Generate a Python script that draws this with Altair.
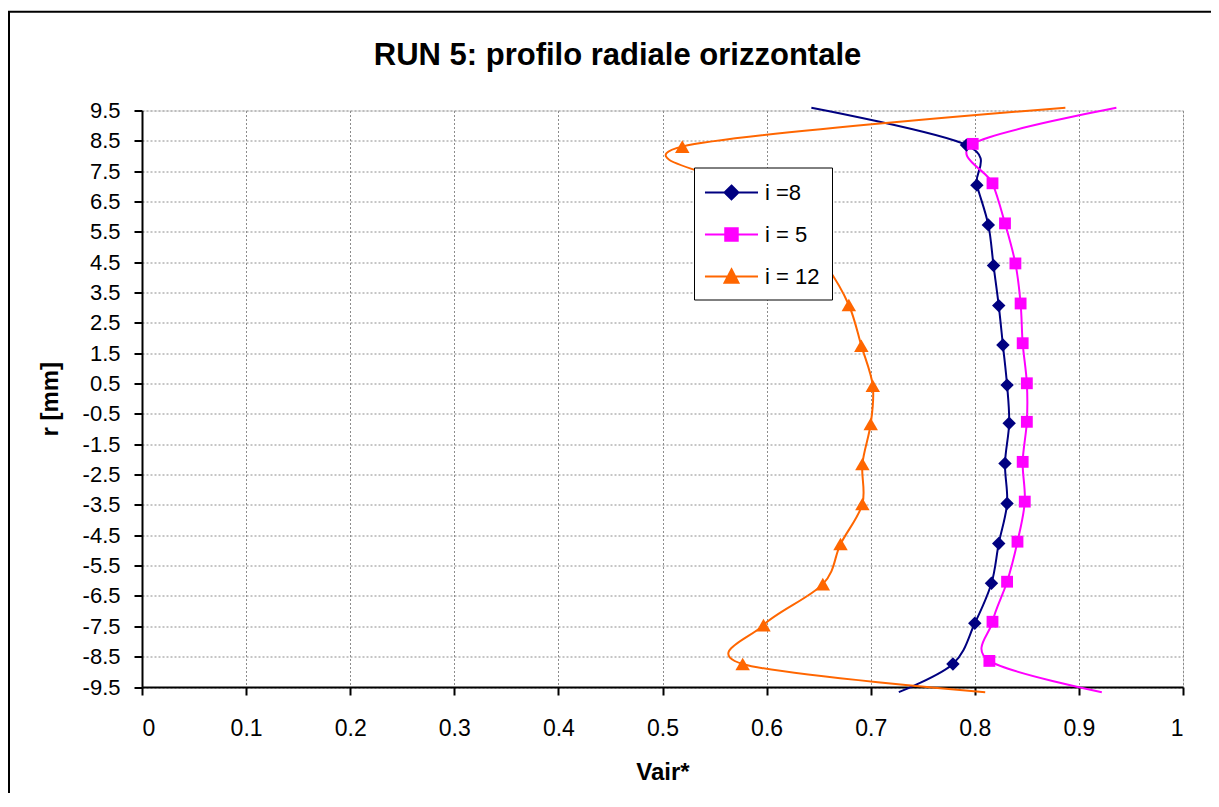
import altair as alt
import pandas as pd

FONT = "Liberation Sans, Arial, Helvetica, sans-serif"

series_names = ["i =8", "i = 5", "i = 12"]
series_colors = ["#000080", "#FF00FF", "#FF6600"]
marker_shapes = ["diamond", "square", "triangle-up"]

# radial position r [mm] and Vair* for each series (first and last entries are the
# line end points, which carry no marker)
r_i8 = [9.59, 8.36, 7.04, 5.73, 4.39, 3.07, 1.77, 0.45, -0.81, -2.13, -3.45, -4.77, -6.08, -7.40, -8.74, -9.67]
v_i8 = [0.643, 0.792, 0.802, 0.813, 0.818, 0.823, 0.827, 0.831, 0.833, 0.829, 0.831, 0.823, 0.816, 0.800, 0.779, 0.727]

r_i5 = [9.59, 8.40, 7.10, 5.78, 4.46, 3.14, 1.83, 0.51, -0.76, -2.08, -3.39, -4.71, -6.03, -7.35, -8.64, -9.67]
v_i5 = [0.936, 0.798, 0.817, 0.829, 0.839, 0.844, 0.846, 0.850, 0.850, 0.846, 0.848, 0.841, 0.831, 0.817, 0.814, 0.922]

r_i12 = [9.59, 8.31, 7.00, 5.70, 4.40, 3.09, 1.75, 0.43, -0.83, -2.15, -3.47, -4.79, -6.11, -7.46, -8.74, -9.67]
v_i12 = [0.887, 0.519, 0.575, 0.625, 0.657, 0.679, 0.691, 0.702, 0.700, 0.692, 0.692, 0.671, 0.654, 0.597, 0.577, 0.810]

x_ticks = [0, 0.1, 0.2, 0.3, 0.4, 0.5, 0.6, 0.7, 0.8, 0.9, 1]
y_ticks = [-9.5, -8.5, -7.5, -6.5, -5.5, -4.5, -3.5, -2.5, -1.5, -0.5,
           0.5, 1.5, 2.5, 3.5, 4.5, 5.5, 6.5, 7.5, 8.5, 9.5]

# legend symbols: a line with the marker on it
legend_paths = [
    "M-1.17,0H3.25M1.04,-0.58L1.62,0L1.04,0.58L0.46,0Z",
    "M-1.17,0H3.25M0.52,-0.52H1.56V0.52H0.52Z",
    "M-1.17,0H3.25M1.04,-0.6L1.62,0.52L0.46,0.52Z",
]

frames = []
for name, rs, vs in [(series_names[0], r_i8, v_i8),
                     (series_names[1], r_i5, v_i5),
                     (series_names[2], r_i12, v_i12)]:
    n = len(rs)
    frames.append(pd.DataFrame({
        "series": name,
        "idx": list(range(n)),
        "r": rs,
        "v": vs,
        "marker": [0 < k < n - 1 for k in range(n)],
    }))
df = pd.concat(frames, ignore_index=True)

x_axis = alt.Axis(
    values=x_ticks, labelExpr="'' + datum.value", title="Vair*",
    labelFont=FONT, labelFontSize=23, labelColor="black", labelPadding=22,
    titleFont=FONT, titleFontSize=24, titleFontWeight="bold", titleColor="black", titlePadding=20,
    tickSize=8, tickWidth=2, tickColor="black", domainColor="black", domainWidth=2,
    grid=True, gridColor="#8c8c8c", gridDash=[2, 2], gridWidth=1,
)
y_axis = alt.Axis(
    values=y_ticks, labelExpr="'' + datum.value", title="r [mm]",
    labelFont=FONT, labelFontSize=22, labelColor="black", labelPadding=14,
    titleFont=FONT, titleFontSize=24, titleFontWeight="bold", titleColor="black", titlePadding=20,
    tickSize=8, tickWidth=2, tickColor="black", domainColor="black", domainWidth=2,
    grid=True, gridColor="#8c8c8c", gridDash=[2, 2], gridWidth=1,
)
x_enc = alt.X("v:Q", scale=alt.Scale(domain=[0, 1], nice=False, zero=False), axis=x_axis)
y_enc = alt.Y("r:Q", scale=alt.Scale(domain=[-9.5, 9.5], nice=False, zero=False), axis=y_axis)

legend_def = alt.Legend(
    title=None, orient="none", legendX=552, legendY=57,
    fillColor="white", strokeColor="black", padding=12,
    labelFont=FONT, labelFontSize=22, labelColor="black", labelOffset=33,
    rowPadding=18, symbolOpacity=1, symbolStrokeWidth=2, symbolSize=576,
)

legend_layer = alt.Chart(df[df["idx"] == 1]).mark_point(
    filled=True, opacity=0, size=576, strokeWidth=2
).encode(
    x=x_enc, y=y_enc,
    fill=alt.Fill("series:N", scale=alt.Scale(domain=series_names, range=series_colors), legend=legend_def),
    stroke=alt.Stroke("series:N", scale=alt.Scale(domain=series_names, range=series_colors), legend=legend_def),
    shape=alt.Shape("series:N", scale=alt.Scale(domain=series_names, range=legend_paths), legend=legend_def),
)

layers = [legend_layer]
for name, color, shape in zip(series_names, series_colors, marker_shapes):
    sub = alt.Chart(df).transform_filter(alt.datum.series == name)
    layers.append(
        sub.mark_line(color=color, strokeWidth=2, interpolate="cardinal", tension=0, clip=False)
        .encode(x=x_enc, y=y_enc, order=alt.Order("idx:Q"))
    )
for name, color, shape in zip(series_names, series_colors, marker_shapes):
    sub = alt.Chart(df).transform_filter(
        f"datum.series == '{name}' && datum.marker"
    )
    size = 180 if shape == "diamond" else (140 if shape == "square" else 210)
    layers.append(
        sub.mark_point(shape=shape, filled=True, color=color, opacity=1, size=size, clip=False)
        .encode(x=x_enc, y=y_enc)
    )

frame = alt.Chart(pd.DataFrame({"a": [0]})).mark_rect(
    fill="transparent", stroke="black", strokeWidth=2, clip=False
).encode(
    x=alt.value(-133), x2=alt.value(3000), y=alt.value(-98.8), y2=alt.value(3000)
)
layers.append(frame)

chart = alt.layer(*layers).properties(
    width=1041,
    height=576.5,
    title=alt.TitleParams(
        "RUN 5: profilo radiale orizzontale", font=FONT, fontSize=31, fontWeight="bold",
        color="black", anchor="middle", frame="group", dx=-45, offset=-85, baseline="alphabetic",
    ),
    autosize=alt.AutoSizeParams(type="none"),
    padding={"left": 134, "top": 102.5, "right": 28, "bottom": 106},
).configure_view(
    stroke="#808080", strokeWidth=2
).configure_legend(
    strokeWidth=2
).configure(background="white")

chart.save("out.html", embed_options={"renderer": "svg", "actions": False})
